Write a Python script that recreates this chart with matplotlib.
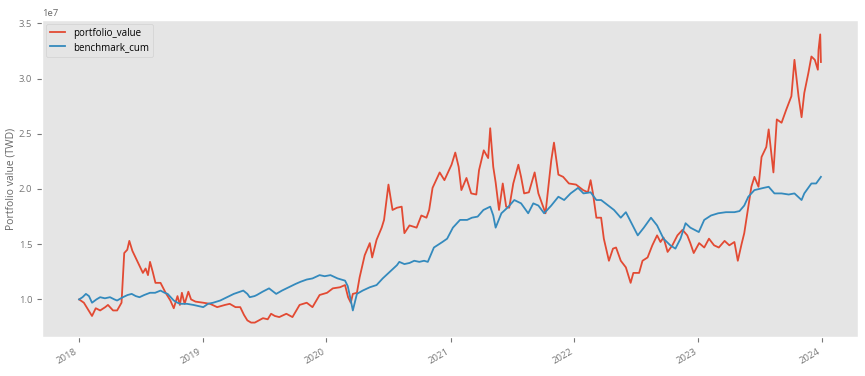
import pandas as pd
import matplotlib.pyplot as plt
import matplotlib.dates as mdates

plt.style.use('ggplot')
plt.rcParams['font.family'] = ['Open Sans', 'DejaVu Sans']

# portfolio value (unit: 1e7 TWD)
port_dates = [
    '2018-01-02', '2018-01-16', '2018-02-09', '2018-02-20', '2018-03-05', '2018-03-20', '2018-03-28',
    '2018-04-12', '2018-04-24', '2018-05-07', '2018-05-15', '2018-05-24', '2018-05-30', '2018-06-08',
    '2018-06-22', '2018-07-09', '2018-07-17', '2018-07-24', '2018-07-30', '2018-08-07', '2018-08-15',
    '2018-08-30', '2018-09-14', '2018-09-28', '2018-10-08', '2018-10-19', '2018-10-26', '2018-11-01',
    '2018-11-09', '2018-11-20', '2018-11-28', '2018-12-11', '2019-01-03', '2019-01-23', '2019-02-13',
    '2019-03-08', '2019-03-22', '2019-04-08', '2019-04-22', '2019-05-03', '2019-05-13', '2019-05-24',
    '2019-06-04', '2019-06-28', '2019-07-12', '2019-07-22', '2019-08-02', '2019-08-15', '2019-09-05',
    '2019-09-23', '2019-10-14', '2019-11-04', '2019-11-21', '2019-12-12', '2020-01-03', '2020-01-20',
    '2020-02-10', '2020-02-25', '2020-03-05', '2020-03-13', '2020-03-19', '2020-03-31', '2020-04-08',
    '2020-04-23', '2020-05-08', '2020-05-15', '2020-05-28', '2020-06-12', '2020-06-19', '2020-07-02',
    '2020-07-14', '2020-07-27', '2020-08-10', '2020-08-18', '2020-09-02', '2020-09-23', '2020-10-07',
    '2020-10-22', '2020-10-30', '2020-11-09', '2020-11-30', '2020-12-14', '2021-01-04', '2021-01-15',
    '2021-01-25', '2021-02-02', '2021-02-17', '2021-03-03', '2021-03-18', '2021-03-26', '2021-04-09',
    '2021-04-22', '2021-04-28', '2021-05-07', '2021-05-14', '2021-05-24', '2021-06-04', '2021-06-14',
    '2021-06-23', '2021-07-05', '2021-07-20', '2021-07-28', '2021-08-06', '2021-08-20', '2021-09-06',
    '2021-09-17', '2021-10-01', '2021-10-08', '2021-10-25', '2021-11-02', '2021-11-15', '2021-11-29',
    '2021-12-16', '2022-01-06', '2022-01-27', '2022-02-10', '2022-02-18', '2022-02-25', '2022-03-07',
    '2022-03-21', '2022-03-29', '2022-04-13', '2022-04-25', '2022-05-04', '2022-05-18', '2022-06-02',
    '2022-06-16', '2022-06-24', '2022-07-11', '2022-07-21', '2022-08-05', '2022-08-19', '2022-09-02',
    '2022-09-12', '2022-09-21', '2022-10-03', '2022-10-17', '2022-11-01', '2022-11-16', '2022-11-30',
    '2022-12-09', '2022-12-19', '2023-01-04', '2023-01-19', '2023-02-02', '2023-02-17', '2023-03-03',
    '2023-03-20', '2023-04-03', '2023-04-18', '2023-04-28', '2023-05-09', '2023-05-17', '2023-05-29',
    '2023-06-07', '2023-06-16', '2023-06-28', '2023-07-07', '2023-07-21', '2023-07-28', '2023-08-11',
    '2023-08-21', '2023-09-04', '2023-09-18', '2023-10-03', '2023-10-12', '2023-10-24', '2023-11-02',
    '2023-11-10', '2023-11-22', '2023-12-01', '2023-12-11', '2023-12-20', '2023-12-22', '2023-12-27',
    '2023-12-29']
port_values = [
    1.00, 0.97, 0.85, 0.92, 0.90, 0.93, 0.95,
    0.90, 0.90, 0.97, 1.42, 1.45, 1.53, 1.44,
    1.35, 1.24, 1.28, 1.22, 1.34, 1.25, 1.15,
    1.15, 1.06, 0.99, 0.92, 1.03, 0.95, 1.06,
    0.96, 1.07, 1.00, 0.98, 0.97, 0.96, 0.93,
    0.95, 0.96, 0.93, 0.93, 0.86, 0.81, 0.79,
    0.79, 0.83, 0.82, 0.87, 0.85, 0.84, 0.87,
    0.84, 0.95, 0.97, 0.93, 1.04, 1.06, 1.10,
    1.11, 1.13, 1.02, 0.97, 1.05, 1.06, 1.20,
    1.40, 1.51, 1.38, 1.54, 1.65, 1.72, 2.04,
    1.81, 1.83, 1.84, 1.60, 1.67, 1.65, 1.76,
    1.74, 1.81, 2.01, 2.15, 2.08, 2.22, 2.33,
    2.20, 1.99, 2.10, 1.96, 1.95, 2.17, 2.35,
    2.28, 2.55, 2.20, 2.06, 1.81, 2.05, 1.84,
    1.83, 2.05, 2.22, 2.11, 1.96, 1.97, 2.15,
    1.96, 1.84, 1.78, 2.26, 2.42, 2.13, 2.11,
    2.05, 2.04, 1.99, 1.97, 2.08, 1.96, 1.74,
    1.74, 1.55, 1.35, 1.46, 1.47, 1.35, 1.29,
    1.15, 1.24, 1.24, 1.35, 1.38, 1.49, 1.58,
    1.52, 1.56, 1.43, 1.49, 1.58, 1.63, 1.58,
    1.51, 1.42, 1.51, 1.47, 1.55, 1.49, 1.47,
    1.53, 1.49, 1.52, 1.35, 1.50, 1.60, 1.84,
    2.02, 2.11, 2.02, 2.29, 2.38, 2.54, 2.15,
    2.63, 2.60, 2.72, 2.84, 3.17, 2.84, 2.65,
    2.87, 3.05, 3.20, 3.17, 3.08, 3.26, 3.40,
    3.15]

# benchmark cumulative value (unit: 1e7 TWD)
bench_dates = [
    '2018-01-02', '2018-01-12', '2018-01-22', '2018-01-31', '2018-02-09', '2018-02-22', '2018-03-05',
    '2018-03-19', '2018-04-03', '2018-04-16', '2018-04-24', '2018-05-11', '2018-05-25', '2018-06-06',
    '2018-06-18', '2018-06-29', '2018-07-13', '2018-07-30', '2018-08-14', '2018-08-30', '2018-09-11',
    '2018-09-20', '2018-10-08', '2018-10-19', '2018-10-29', '2018-11-16', '2018-12-05', '2018-12-19',
    '2019-01-03', '2019-01-17', '2019-02-01', '2019-02-22', '2019-03-14', '2019-04-03', '2019-04-22',
    '2019-05-01', '2019-05-13', '2019-05-20', '2019-06-03', '2019-06-10', '2019-06-27', '2019-07-16',
    '2019-08-06', '2019-08-23', '2019-09-12', '2019-10-02', '2019-10-17', '2019-11-04', '2019-11-21',
    '2019-12-12', '2019-12-27', '2020-01-13', '2020-02-03', '2020-02-25', '2020-03-04', '2020-03-09',
    '2020-03-19', '2020-03-31', '2020-04-17', '2020-05-08', '2020-05-28', '2020-06-15', '2020-07-06',
    '2020-07-27', '2020-08-03', '2020-08-18', '2020-09-02', '2020-09-16', '2020-10-01', '2020-10-15',
    '2020-10-26', '2020-11-13', '2020-12-08', '2020-12-22', '2021-01-08', '2021-01-29', '2021-02-19',
    '2021-03-05', '2021-03-22', '2021-04-08', '2021-04-28', '2021-05-07', '2021-05-14', '2021-05-31',
    '2021-06-21', '2021-07-08', '2021-07-28', '2021-08-18', '2021-09-02', '2021-09-17', '2021-10-04',
    '2021-10-25', '2021-11-15', '2021-12-02', '2021-12-21', '2022-01-12', '2022-01-28', '2022-02-18',
    '2022-03-07', '2022-03-21', '2022-04-11', '2022-04-28', '2022-05-18', '2022-06-02', '2022-06-22',
    '2022-07-07', '2022-07-25', '2022-08-15', '2022-09-02', '2022-09-21', '2022-10-11', '2022-10-26',
    '2022-11-10', '2022-11-25', '2022-12-09', '2023-01-03', '2023-01-19', '2023-02-08', '2023-03-01',
    '2023-03-24', '2023-04-18', '2023-05-03', '2023-05-17', '2023-05-29', '2023-06-16', '2023-07-13',
    '2023-07-28', '2023-08-14', '2023-09-04', '2023-09-25', '2023-10-12', '2023-11-02', '2023-11-10',
    '2023-12-01', '2023-12-15', '2023-12-29']
bench_values = [
    1.00, 1.02, 1.05, 1.03, 0.97, 1.00, 1.02,
    1.01, 1.02, 1.00, 0.99, 1.02, 1.04, 1.05,
    1.03, 1.02, 1.04, 1.06, 1.06, 1.08, 1.06,
    1.05, 0.99, 0.97, 0.96, 0.96, 0.95, 0.94,
    0.93, 0.96, 0.97, 0.99, 1.02, 1.05, 1.07,
    1.08, 1.05, 1.02, 1.03, 1.04, 1.07, 1.10,
    1.05, 1.08, 1.11, 1.14, 1.16, 1.18, 1.19,
    1.22, 1.21, 1.22, 1.19, 1.17, 1.12, 1.05,
    0.90, 1.05, 1.08, 1.11, 1.13, 1.19, 1.25,
    1.31, 1.34, 1.32, 1.33, 1.35, 1.34, 1.35,
    1.34, 1.47, 1.52, 1.55, 1.65, 1.72, 1.72,
    1.74, 1.75, 1.81, 1.84, 1.76, 1.65, 1.78,
    1.84, 1.90, 1.87, 1.78, 1.87, 1.85, 1.78,
    1.85, 1.93, 1.90, 1.96, 2.01, 1.96, 1.97,
    1.90, 1.90, 1.85, 1.81, 1.74, 1.79, 1.67,
    1.58, 1.65, 1.74, 1.67, 1.55, 1.49, 1.46,
    1.55, 1.69, 1.65, 1.61, 1.72, 1.76, 1.78,
    1.79, 1.79, 1.80, 1.85, 1.93, 1.99, 2.01,
    2.02, 1.96, 1.96, 1.95, 1.96, 1.90, 1.96,
    2.05, 2.05, 2.11]

port = pd.Series([v * 1e7 for v in port_values], index=pd.to_datetime(port_dates))
bench = pd.Series([v * 1e7 for v in bench_values], index=pd.to_datetime(bench_dates))

fig = plt.figure(figsize=(8.65, 3.76), dpi=100)
ax = fig.add_axes([0.0486, 0.1037, 0.9433, 0.8431])
ax.plot(port.index, port.values, label='portfolio_value', color='#E24A33', linewidth=1.3)
ax.plot(bench.index, bench.values, label='benchmark_cum', color='#348ABD', linewidth=1.3)
ax.grid(False)
ax.set_ylabel('Portfolio value (TWD)', fontsize=7.5, color='#666666')
ax.yaxis.set_label_coords(-0.031, 0.5)
ax.tick_params(labelsize=6.8, colors='#777777')
ax.xaxis.set_major_locator(mdates.YearLocator())
ax.xaxis.set_major_formatter(mdates.DateFormatter('%Y'))
ax.yaxis.get_offset_text().set_fontsize(6.8)
ax.yaxis.get_offset_text().set_color('#666666')
for lab in ax.get_xticklabels():
    lab.set_rotation(30)
    lab.set_ha('right')
ax.legend(loc='upper left', fontsize=7, labelspacing=0.3, handlelength=1.6,
          borderaxespad=0.4)

fig.savefig('out.png', dpi=100)
